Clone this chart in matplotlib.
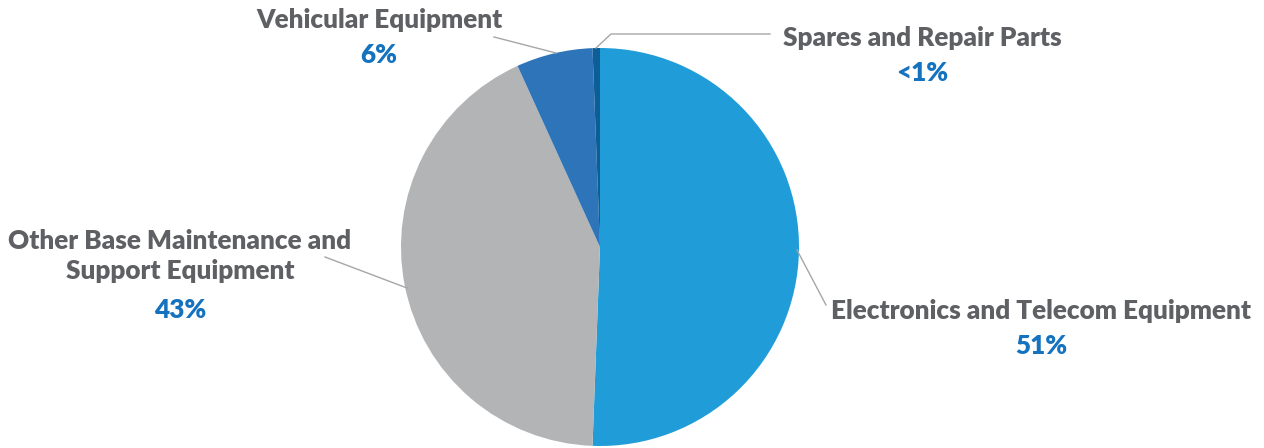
import matplotlib.pyplot as plt

categories = ['Electronics and Telecom Equipment', 'Other Base Maintenance and\nSupport Equipment',
              'Vehicular Equipment', 'Spares and Repair Parts']
shares = [50.6, 42.6, 6.2, 0.6]
pct_labels = ['51%', '43%', '6%', '<1%']
colors = ['#209DD8', '#B3B4B6', '#2E74B9', '#0D5E96']

plt.rcParams['font.family'] = ['Lato', 'DejaVu Sans']
text_grey = '#5F6064'
pct_blue = '#1572BE'
line_grey = '#A6A6A6'

fig = plt.figure(figsize=(12.64, 4.48), dpi=100)
ax = fig.add_axes([0, 0, 1, 1])

# pie in pixel coordinates (y axis flipped, so go counterclockwise to look clockwise)
ax.pie(shares, colors=colors, startangle=-90, counterclock=True,
       center=(600, 247), radius=199, frame=True,
       wedgeprops=dict(linewidth=0))
ax.set_xlim(0, 1264)
ax.set_ylim(448, 0)
ax.set_aspect('equal')
ax.axis('off')

# label positions: (text x, name y, pct y, leader line points)
labels = [
    (1041, 311, 346, [(797, 250), (826, 305)]),
    (180, 256, 310, [(407, 288), (325, 257)]),
    (379, 20, 55, [(556, 53), (494, 37)]),
    (922, 38, 73, [(596, 48), (611, 34), (770, 34)]),
]
for name, pct, (tx, ny, py, pts) in zip(categories, pct_labels, labels):
    xs = [p[0] for p in pts]
    ys = [p[1] for p in pts]
    ax.plot(xs, ys, color=line_grey, lw=1)
    ax.text(tx, ny, name, ha='center', va='center', fontsize=18.8, fontweight='heavy',
            color=text_grey, linespacing=1.3)
    ax.text(tx, py, pct, ha='center', va='center', fontsize=18.8, fontweight='heavy', color=pct_blue)

fig.savefig('out.png', dpi=100)
